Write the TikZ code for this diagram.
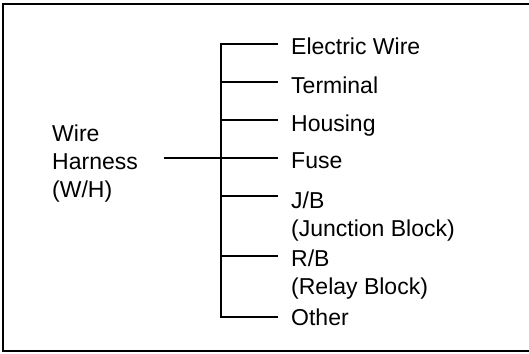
\documentclass[tikz,border=0pt]{standalone}
\usepackage{fontspec}
\setmainfont{Liberation Sans}
\begin{document}
\begin{tikzpicture}[x=1pt,y=-1pt,
  lbl/.style={anchor=base west,inner sep=0pt,align=left,font=\fontsize{23}{28}\selectfont},
  wire/.style={line width=1.6pt,line cap=rect}]
\useasboundingbox (0,0) rectangle (529,353);
\clip (0,0) rectangle (529,353);
\draw[line width=2pt] (3,4) rectangle (535,351);
% left label (base = last line)
\node[lbl] (wh) at (52,197.5) {Wire\\Harness\\(W/H)};
% trunk
\coordinate (top) at (221,44.3);
\coordinate (bot) at (221,316.7);
\coordinate (hub) at (221,157.7);
\coordinate (in) at (165,157.7);
\draw[wire] (top) -- (bot);
\draw[wire] (in) -- (hub);
% items (base = last line)
\foreach \n/\ly/\by/\t in {
  a/44.3/55/{Electric Wire},
  b/82/93/{Terminal},
  c/120/131/{Housing},
  d/157.7/168.7/{Fuse},
  e/195.7/236.3/{J/B\\(Junction Block)},
  f/256/294/{R/B\\(Relay Block)},
  g/316.7/325/{Other}}{
  \coordinate (s\n) at (221,\ly);
  \coordinate (e\n) at (277,\ly);
  \node[lbl] (\n) at (291,\by) {\t};
  \draw[wire] (s\n) -- (e\n);
}
\end{tikzpicture}
\end{document}
